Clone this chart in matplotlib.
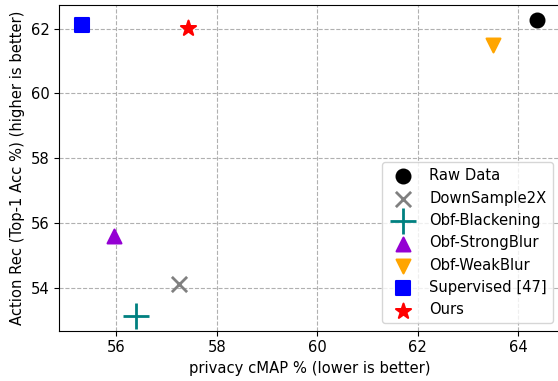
import matplotlib
matplotlib.use("Agg")
import matplotlib.pyplot as plt

labels = ["Raw Data", "DownSample2X", "Obf-Blackening", "Obf-StrongBlur",
          "Obf-WeakBlur", "Supervised [47]", "Ours"]
privacy_cmap = [64.38, 57.24, 56.39, 55.95, 63.49, 55.32, 57.43]
action_acc = [62.27, 54.10, 53.13, 55.60, 61.49, 62.10, 62.01]

markers = ["o", "x", "+", "^", "v", "s", "*"]
colors = ["black", "gray", "teal", "darkviolet", "orange", "blue", "red"]
sizes = [100, 120, 330, 100, 100, 100, 130]
lws = [1.5, 2.0, 2.0, 1.5, 1.5, 1.5, 1.5]

FS = 10.6

fig = plt.figure(figsize=(5.58, 3.81), dpi=100)
ax = fig.add_axes([59.3 / 558, 1 - 330.7 / 381, (560 - 59.3) / 558, (330.7 - 5) / 381])

for x, y, m, c, s, lw, lab in zip(privacy_cmap, action_acc, markers, colors, sizes, lws, labels):
    ax.scatter([x], [y], marker=m, c=c, s=s, linewidths=lw, label=lab, zorder=3)

ax.grid(True, linestyle="--", color="#b0b0b0", linewidth=0.8)
ax.set_axisbelow(True)
ax.set_xticks([56, 58, 60, 62, 64])
ax.set_yticks([54, 56, 58, 60, 62])
ax.tick_params(labelsize=FS)
ax.set_xlabel("privacy cMAP % (lower is better)", fontsize=FS)
ax.set_ylabel("Action Rec (Top-1 Acc %) (higher is better)", fontsize=FS)
ax.legend(loc="lower right", fontsize=FS)

fig.savefig("out.png", dpi=100)
